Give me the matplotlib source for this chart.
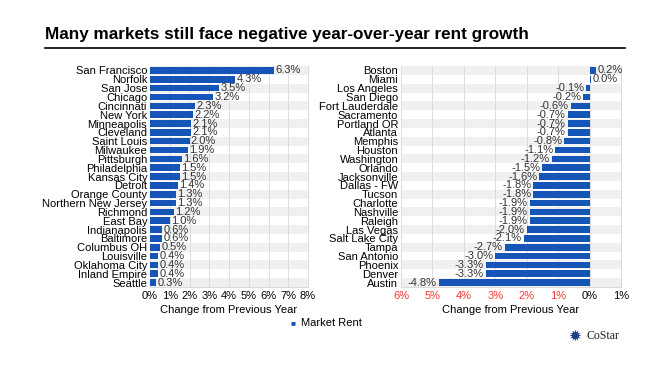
import matplotlib.pyplot as plt
from matplotlib.lines import Line2D
from matplotlib.ticker import FuncFormatter

plt.rcParams["font.family"] = ["Liberation Sans", "DejaVu Sans"]

left_markets = ["San Francisco", "Norfolk", "San Jose", "Chicago", "Cincinnati", "New York",
                "Minneapolis", "Cleveland", "Saint Louis", "Milwaukee", "Pittsburgh",
                "Philadelphia", "Kansas City", "Detroit", "Orange County", "Northern New Jersey",
                "Richmond", "East Bay", "Indianapolis", "Baltimore", "Columbus OH", "Louisville",
                "Oklahoma City", "Inland Empire", "Seattle"]
left_values = [6.3, 4.3, 3.5, 3.2, 2.3, 2.2, 2.1, 2.1, 2.0, 1.9, 1.6, 1.5, 1.5, 1.4, 1.3, 1.3,
               1.2, 1.0, 0.6, 0.6, 0.5, 0.4, 0.4, 0.4, 0.3]

right_markets = ["Boston", "Miami", "Los Angeles", "San Diego", "Fort Lauderdale", "Sacramento",
                 "Portland OR", "Atlanta", "Memphis", "Houston", "Washington", "Orlando",
                 "Jacksonville", "Dallas - FW", "Tucson", "Charlotte", "Nashville", "Raleigh",
                 "Las Vegas", "Salt Lake City", "Tampa", "San Antonio", "Phoenix", "Denver", "Austin"]
right_values = [0.2, 0.03, -0.1, -0.2, -0.6, -0.7, -0.7, -0.7, -0.8, -1.1, -1.2, -1.5, -1.6, -1.8,
                -1.8, -1.9, -1.9, -1.9, -2.0, -2.1, -2.7, -3.0, -3.3, -3.3, -4.8]

BLUE = "#1655b8"
FS = 8
fig = plt.figure(figsize=(6.7, 3.67), dpi=100)

fig.text(0.067, 0.905, "Many markets still face negative year-over-year rent growth",
         fontsize=12.3, fontweight="bold", va="center", ha="left")
fig.add_artist(Line2D([0.067, 0.933], [0.868, 0.868], color="black", lw=1.2))


def panel(rect, names, vals, xlim, ticks):
    ax = fig.add_axes(rect)
    n = len(names)
    ys = list(range(n))
    for i in ys:
        if i % 2 == 0:
            ax.axhspan(i - 0.5, i + 0.5, color="#f0f0f0", lw=0, zorder=0)
    ax.barh(ys, vals, height=0.75, color=BLUE, zorder=3)
    ax.set_ylim(n - 0.5, -0.5)
    ax.set_xlim(*xlim)
    ax.set_xticks(ticks)
    ax.set_yticks(ys)
    ax.set_yticklabels(names, fontsize=FS)
    ax.tick_params(axis="both", length=0, pad=2)
    ax.tick_params(axis="x", labelsize=FS, pad=3)
    ax.xaxis.grid(True, color="#dcdcdc", lw=0.7, zorder=1)
    ax.set_axisbelow(True)
    for s in ax.spines.values():
        s.set_color("#d9d9d9")
        s.set_linewidth(0.7)
    ax.spines["left"].set_visible(False)
    ax.spines["top"].set_visible(False)
    ax.set_xlabel("Change from Previous Year", fontsize=FS, labelpad=3)
    for y, v in zip(ys, vals):
        txt = f"{round(v, 1):.1f}%"
        if v >= 0:
            ax.text(v + 0.07 * (xlim[1] - xlim[0]) / 8, y, txt, va="center", ha="left",
                    fontsize=FS, color="#333333", zorder=4)
        else:
            ax.text(v - 0.06, y, txt, va="center", ha="right", fontsize=FS,
                    color="#333333", zorder=4)
    return ax


ax1 = panel([0.2239, 0.218, 0.2358, 0.602], left_markets, left_values, (0, 8), range(0, 9))
ax1.xaxis.set_major_formatter(FuncFormatter(lambda x, p: f"{int(x)}%"))

ax2 = panel([0.5985, 0.218, 0.3284, 0.602], right_markets, right_values, (-6, 1), range(-6, 2))
ax2.xaxis.set_major_formatter(FuncFormatter(lambda x, p: f"{abs(int(x))}%"))
for lab, t in zip(ax2.get_xticklabels(), range(-6, 2)):
    if t < 0:
        lab.set_color("#ff3333")

# legend
fig.text(0.434, 0.119, "\u25A0", color=BLUE, fontsize=6, va="center", ha="left")
fig.text(0.449, 0.119, "Market Rent", fontsize=FS, va="center", ha="left")

# CoStar mark
fig.text(0.858, 0.085, "\u2739", color="#1f3f8a", fontsize=11, va="center", ha="center",
         family=["DejaVu Sans"])
fig.text(0.876, 0.085, "CoStar", fontsize=8.5, va="center", ha="left",
         family=["Liberation Serif"], color="#222222")

fig.savefig("out.png", dpi=100)
